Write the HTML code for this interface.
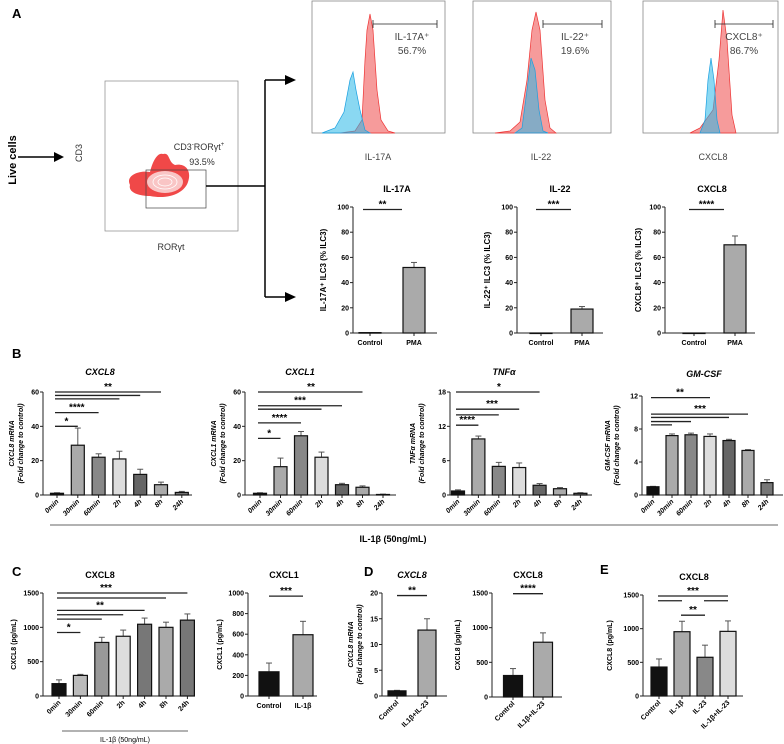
<!DOCTYPE html>
<html><head><meta charset="utf-8"><style>
body{margin:0;background:#fff}
svg{display:block;font-family:"Liberation Sans",sans-serif}
.tk{font-size:7px;font-weight:bold}
.tt{font-size:9px;font-weight:bold}
</style></head><body>
<svg id="fig" width="784" height="744" viewBox="0 0 784 744" xmlns="http://www.w3.org/2000/svg">
<text x="12" y="18" font-size="13" font-weight="bold">A</text>
<text x="12" y="358" font-size="13" font-weight="bold">B</text>
<text x="12" y="576" font-size="13" font-weight="bold">C</text>
<text x="364" y="576" font-size="13" font-weight="bold">D</text>
<text x="600" y="574" font-size="13" font-weight="bold">E</text>
<!-- flow gating -->
<text transform="translate(16,160) rotate(-90)" text-anchor="middle" font-size="11" font-weight="bold">Live cells</text>
<line x1="18" y1="157" x2="56" y2="157" stroke="#000" stroke-width="1.5"/>
<polygon points="54,152 64,157 54,162" fill="#000"/>
<text transform="translate(82,153) rotate(-90)" text-anchor="middle" font-size="9" fill="#333">CD3</text>
<rect x="105" y="81" width="133" height="150" fill="none" stroke="#888" stroke-width="0.7"/>
<path d="M130,185 C125,175 140,170 150,172 C153,160 158,152 163,154 C170,152 168,162 175,165 C185,163 192,170 188,182 C185,192 170,200 150,196 C138,196 128,192 130,185Z" fill="#f04848"/>
<ellipse cx="165" cy="182" rx="18" ry="11" fill="#f9c5c5"/>
<ellipse cx="165" cy="182" rx="12" ry="7" fill="none" stroke="#fff" stroke-width="0.8"/>
<ellipse cx="165" cy="182" rx="7" ry="4" fill="none" stroke="#fff" stroke-width="0.8"/>
<rect x="146" y="170" width="60" height="38" fill="none" stroke="#444" stroke-width="0.7"/>
<text x="199" y="150" text-anchor="middle" font-size="9" fill="#333">CD3<tspan font-size="6" dy="-4">-</tspan><tspan dy="4">RORγt</tspan><tspan font-size="6" dy="-4">+</tspan></text>
<text x="202" y="165" text-anchor="middle" font-size="9" fill="#333">93.5%</text>
<text x="171" y="250" text-anchor="middle" font-size="9" fill="#333">RORγt</text>
<line x1="206" y1="186" x2="265" y2="186" stroke="#000" stroke-width="1.5"/>
<line x1="265" y1="80" x2="265" y2="297" stroke="#000" stroke-width="1.5"/>
<line x1="265" y1="80" x2="287" y2="80" stroke="#000" stroke-width="1.5"/>
<line x1="265" y1="297" x2="287" y2="297" stroke="#000" stroke-width="1.5"/>
<polygon points="285,75 296,80 285,85" fill="#000"/>
<polygon points="285,292 296,297 285,302" fill="#000"/>
<g id="hists"></g>
<g id="charts"></g>
<line x1="50" y1="525" x2="778" y2="525" stroke="#333" stroke-width="0.8"/>
<text x="393" y="542" text-anchor="middle" font-size="9" font-weight="bold">IL-1β (50ng/mL)</text>
<line x1="62" y1="731" x2="188" y2="731" stroke="#333" stroke-width="0.8"/>
<text x="125" y="742" text-anchor="middle" font-size="7">IL-1β (50ng/mL)</text>
</svg>
<script>
const NS="http://www.w3.org/2000/svg";
const fig=document.getElementById('charts');
function el(tag,attrs,parent,txt){const e=document.createElementNS(NS,tag);for(const k in attrs)e.setAttribute(k,attrs[k]);if(txt!==undefined)e.textContent=txt;(parent||fig).appendChild(e);return e;}

// ---- data ----
const timeCats=["0min","30min","60min","2h","4h","8h","24h"];
const pmaCats=["Control","PMA"];
const il17Vals=[0.3,52], il17Err=[0,4];
const il22Vals=[0,19], il22Err=[0,2];
const cxcl8pctVals=[0,70], cxcl8pctErr=[0,7];
const bCxcl8Vals=[1,29,22,21,12,6,1.5], bCxcl8Err=[0.3,10,2,4.5,3,1.5,0.6];
const bCxcl1Vals=[1,16.5,34.5,22,6,4.5,0.3], bCxcl1Err=[0.3,5,2.5,3,0.8,0.8,0.2];
const bTnfVals=[0.7,9.8,5,4.8,1.7,1.1,0.3], bTnfErr=[0.2,0.5,0.7,0.8,0.3,0.2,0.1];
const bGmVals=[1,7.2,7.3,7.1,6.6,5.4,1.5], bGmErr=[0.05,0.2,0.2,0.3,0.15,0.1,0.35];
const cCxcl8Vals=[180,300,780,870,1045,1000,1105], cCxcl8Err=[55,15,75,90,90,75,90];
const cCxcl1Cats=["Control","IL-1β"], cCxcl1Vals=[235,595], cCxcl1Err=[85,130];
const dCats=["Control","IL1β+IL-23"], dMrnaVals=[1,12.8], dMrnaErr=[0.1,2.2];
const dProtVals=[310,790], dProtErr=[100,135];
const eCats=["Control","IL-1β","IL-23","IL-1β+IL-23"], eVals=[430,955,575,960], eErr=[120,155,180,155];
const ticks100=[0,20,40,60,80,100], ticks60=[0,20,40,60], ticks18=[0,6,12,18], ticks12=[0,4,8,12];
const ticks1500=[0,500,1000,1500], ticks1000=[0,200,400,600,800,1000], ticks20=[0,5,10,15,20];
const timeColors=["#111","#aaa","#888","#ddd","#666","#aaa","#777"];
const cColors=["#111","#bbb","#999","#ddd","#777","#aaa","#777"];

function chart(c){
  const g=el('g',{});
  
  
  const ys=v=>c.y0-(v/c.max)*(c.y0-c.y1);
  const xs=i=>c.first+i*c.step;
  el('line',{x1:c.x0,y1:c.y0,x2:c.x0,y2:c.y1,stroke:'#222','stroke-width':1},g);
  el('line',{x1:c.x0,y1:c.y0,x2:c.xe,y2:c.y0,stroke:'#222','stroke-width':1},g);
  c.ticks.forEach(t=>{
    el('line',{x1:c.x0-3,y1:ys(t),x2:c.x0,y2:ys(t),stroke:'#222','stroke-width':1},g);
    const tx=el('text',{x:c.x0-4,y:ys(t)+2.5,'text-anchor':'end',class:'tk'},g,t);
    
    
  });
  c.vals.forEach((v,i)=>{
    const x=xs(i);
    el('line',{x1:x,y1:c.y0,x2:x,y2:c.y0+3,stroke:'#222','stroke-width':1},g);
    const e=c.errs[i];
    if(e>0){el('line',{x1:x,y1:ys(v),x2:x,y2:ys(v+e),stroke:'#555','stroke-width':1},g);
      el('line',{x1:x-3,y1:ys(v+e),x2:x+3,y2:ys(v+e),stroke:'#555','stroke-width':1},g);}
    const r=el('rect',{x:x-c.bw/2,y:ys(v),width:c.bw,height:Math.max(c.y0-ys(v),0.5),fill:c.colors[i],stroke:'#111','stroke-width':1.2},g);
    
    
    let lt;
    if(c.rot){lt=el('text',{transform:`translate(${x+2},${c.y0+7}) rotate(-45)`,'text-anchor':'end',class:'tk','font-style':c.itl?'italic':'normal'},g,c.cats[i]);}
    else{lt=el('text',{x:x,y:c.y0+12,'text-anchor':'middle',class:'tk','font-size':c.lf||8},g,c.cats[i]);}
    
    
  });
  const tt=el('text',{x:c.tx,y:c.ty,'text-anchor':'middle',class:'tt','font-style':c.titleItalic?'italic':'normal'},g,c.title);
  
  
  const yt=el('text',{transform:`translate(${c.yx},${(c.y0+c.y1)/2}) rotate(-90)`,'text-anchor':'middle','font-size':c.ytf||7,'font-weight':'bold','font-style':c.ytItalic?'italic':'normal'},g);
  c.ytitle.forEach((s,k)=>{el('tspan',{x:0,dy:k?9:0},yt,s);});
  
  
  (c.sig||[]).forEach(s=>{
    const [a,b,v,lab]=s; const y=ys(v);
    const xa=xs(a)-(c.sigOff||0), xb=xs(b)+(c.sigOff2||0);
    el('line',{x1:xa,y1:y,x2:xb,y2:y,stroke:'#222','stroke-width':1.3},g);
    if(lab){const lx=s[4]!==undefined?s[4]:(xa+xb)/2;
      el('text',{x:lx,y:y-2,'text-anchor':'middle','font-size':10,'font-weight':'bold'},g,lab);}
  });
}
// Panel A bar charts
chart({name:'il17a-chart',x0:353,xe:437,y0:333,y1:207,max:100,ticks:ticks100,first:370,step:44,bw:22,cats:pmaCats,vals:il17Vals,errs:il17Err,colors:['#aaa','#aaa'],title:'IL-17A',tx:397,ty:192,ytitle:['IL-17A⁺ ILC3 (% ILC3)'],yx:326,ytf:8,sig:[[0,1,98,'**']],sigOff:7,sigOff2:-12});
chart({name:'il22-chart',x0:517,xe:603,y0:333,y1:207,max:100,ticks:ticks100,first:541,step:41,bw:22,cats:pmaCats,vals:il22Vals,errs:il22Err,colors:['#aaa','#aaa'],title:'IL-22',tx:560,ty:192,ytitle:['IL-22⁺ ILC3 (% ILC3)'],yx:490,ytf:8,sig:[[0,1,98,'***']],sigOff:5,sigOff2:-11});
chart({name:'cxcl8-pct-chart',x0:665,xe:755,y0:333,y1:207,max:100,ticks:ticks100,first:694,step:41,bw:22,cats:pmaCats,vals:cxcl8pctVals,errs:cxcl8pctErr,colors:['#aaa','#aaa'],title:'CXCL8',tx:712,ty:192,ytitle:['CXCL8⁺ ILC3 (% ILC3)'],yx:641,ytf:8,sig:[[0,1,98,'****']],sigOff:5,sigOff2:-11});
// Panel B
chart({name:'b-cxcl8-chart',x0:43,xe:192,y0:495,y1:392,max:60,ticks:ticks60,first:57,step:20.8,bw:13,cats:timeCats,vals:bCxcl8Vals,errs:bCxcl8Err,colors:timeColors,rot:true,itl:true,title:'CXCL8',tx:100,ty:375,titleItalic:true,ytitle:['CXCL8 mRNA','(Fold change to control)'],yx:14,ytItalic:true,sigOff:2,
 sig:[[0,5,60,'**',108],[0,4,58],[0,3,56],[0,2,48,'****'],[0,1,40,'*']]});
chart({name:'b-cxcl1-chart',x0:245,xe:396,y0:495,y1:392,max:60,ticks:ticks60,first:260,step:20.5,bw:13,cats:timeCats,vals:bCxcl1Vals,errs:bCxcl1Err,colors:timeColors,rot:true,itl:true,title:'CXCL1',tx:300,ty:375,titleItalic:true,ytitle:['CXCL1 mRNA','(Fold change to control)'],yx:216,ytItalic:true,sigOff:2,
 sig:[[0,5,60,'**',311],[0,4,52,'***'],[0,3,50],[0,2,42,'****'],[0,1,33,'*']]});
chart({name:'b-tnfa-chart',x0:450,xe:592,y0:495,y1:392,max:18,ticks:ticks18,first:458,step:20.4,bw:13,cats:timeCats,vals:bTnfVals,errs:bTnfErr,colors:timeColors,rot:true,itl:true,title:'TNFα',tx:504,ty:375,titleItalic:true,ytitle:['TNFα mRNA','(Fold change to control)'],yx:415,ytItalic:true,sigOff:2,
 sig:[[0,4,18,'*',499],[0,3,15,'***',492],[0,2,14],[0,1,12.2,'****']]});
chart({name:'b-gmcsf-chart',x0:642,xe:783,y0:495,y1:396,max:12,ticks:ticks12,first:653,step:19,bw:12,cats:timeCats,vals:bGmVals,errs:bGmErr,colors:timeColors,rot:true,itl:true,title:'GM-CSF',tx:704,ty:377,titleItalic:true,ytitle:['GM-CSF mRNA','(Fold change to control)'],yx:610,ytItalic:true,sigOff:2,
 sig:[[0,3,11.8,'**',680],[0,5,9.8,'***',700],[0,4,9.4],[0,2,8.9],[0,1,8.5]]});
// Panel C
chart({name:'c-cxcl8-chart',x0:43,xe:193,y0:696,y1:593,max:1500,ticks:ticks1500,first:59,step:21.4,bw:14,cats:timeCats,vals:cCxcl8Vals,errs:cCxcl8Err,colors:cColors,rot:true,title:'CXCL8',tx:100,ty:578,ytitle:['CXCL8 (pg/mL)'],yx:16,sigOff:2,
 sig:[[0,6,1500,'***',106],[0,5,1427],[0,4,1247,'**',100],[0,3,1183],[0,2,1120],[0,1,925,'*']]});
chart({name:'c-cxcl1-chart',x0:248,xe:317,y0:696,y1:593,max:1000,ticks:ticks1000,first:269,step:34,bw:20,cats:cCxcl1Cats,vals:cCxcl1Vals,errs:cCxcl1Err,colors:['#111','#aaa'],title:'CXCL1',tx:284,ty:578,ytitle:['CXCL1 (pg/mL)'],yx:222,lf:7,sig:[[0,1,970,'***']],sigOff2:0});
// Panel D
chart({name:'d-cxcl8-mrna-chart',x0:382,xe:447,y0:696,y1:593,max:20,ticks:ticks20,first:397,step:30,bw:18,cats:dCats,vals:dMrnaVals,errs:dMrnaErr,colors:['#111','#aaa'],rot:true,title:'CXCL8',tx:412,ty:578,titleItalic:true,ytitle:['CXCL8 mRNA','(Fold change to control)'],yx:353,ytItalic:true,sig:[[0,1,19.5,'**']]});
chart({name:'d-cxcl8-protein-chart',x0:492,xe:562,y0:697,y1:593,max:1500,ticks:ticks1500,first:513,step:30,bw:19,cats:dCats,vals:dProtVals,errs:dProtErr,colors:['#111','#aaa'],rot:true,title:'CXCL8',tx:528,ty:578,ytitle:['CXCL8 (pg/mL)'],yx:460,sig:[[0,1,1490,'****']]});
// Panel E
chart({name:'e-cxcl8-chart',x0:643,xe:743,y0:696,y1:595,max:1500,ticks:ticks1500,first:659,step:23,bw:16,cats:eCats,vals:eVals,errs:eErr,colors:['#111','#aaa','#888','#ddd'],rot:true,title:'CXCL8',tx:694,ty:580,ytitle:['CXCL8 (pg/mL)'],yx:612,
 sig:[[0,3,1485,'***'],[0,1,1415],[2,3,1415],[1,2,1200,'**']],sigOff:1});

// Histograms
const hg=document.getElementById('hists');
const histBoxes=[
 {x:312,w:133,label:'IL-17A',lx:378,gate:[373,437],gt:['IL-17A⁺','56.7%'],gtx:412,red:[[340,133],[355,131],[362,120],[365,60],[367,30],[370,14],[373,30],[377,90],[381,120],[388,131],[395,133]],blue:[[322,133],[335,128],[344,112],[350,80],[353,72],[356,90],[360,110],[365,130],[370,133]]},
 {x:473,w:138,label:'IL-22',lx:541,gate:[543,602],gt:['IL-22⁺','19.6%'],gtx:575,red:[[495,133],[510,131],[520,122],[527,80],[532,30],[536,12],[540,30],[545,100],[550,128],[556,133]],blue:[[515,133],[522,128],[527,90],[531,58],[535,70],[539,110],[543,131],[548,133]]},
 {x:643,w:135,label:'CXCL8',lx:713,gate:[715,773],gt:['CXCL8⁺','86.7%'],gtx:744,red:[[690,133],[700,128],[713,110],[719,60],[723,10],[727,40],[732,115],[736,133]],blue:[[700,133],[705,120],[708,80],[711,58],[714,80],[717,120],[720,133]]}
];
histBoxes.forEach((h,k)=>{
  const g=el('g',{},hg);
  
  
  el('rect',{x:h.x,y:1,width:h.w,height:132,fill:'none',stroke:'#888','stroke-width':0.8},g);
  el('polygon',{points:h.red.map(p=>p.join(',')).join(' '),fill:'#f58a8a',stroke:'#e33','stroke-width':0.7,'fill-opacity':0.85},g);
  el('polygon',{points:h.blue.map(p=>p.join(',')).join(' '),fill:'#29b8e8','fill-opacity':0.55,stroke:'#1aa0e0','stroke-width':0.7},g);
  el('line',{x1:h.gate[0],y1:24,x2:h.gate[1],y2:24,stroke:'#222','stroke-width':0.8},g);
  el('line',{x1:h.gate[0],y1:20,x2:h.gate[0],y2:28,stroke:'#222','stroke-width':0.8},g);
  el('line',{x1:h.gate[1],y1:20,x2:h.gate[1],y2:28,stroke:'#222','stroke-width':0.8},g);
  el('text',{x:h.gtx,y:40,'text-anchor':'middle','font-size':10,fill:'#444'},g,h.gt[0]);
  el('text',{x:h.gtx,y:54,'text-anchor':'middle','font-size':10,fill:'#444'},g,h.gt[1]);
  el('text',{x:h.lx,y:160,'text-anchor':'middle','font-size':9,fill:'#444'},g,h.label);
});
</script>
</body></html>
